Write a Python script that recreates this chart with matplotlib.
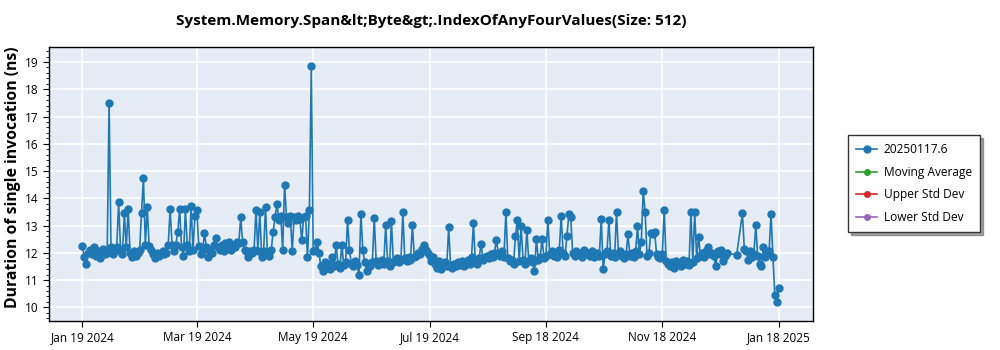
import matplotlib
matplotlib.use('Agg')
import matplotlib.pyplot as plt
import matplotlib.dates as mdates
from matplotlib.ticker import AutoMinorLocator
import numpy as np
import pandas as pd

# one value per day, Jan 19 2024 .. Jan 18 2025
jan24 = [12.25, 11.85, 11.6, 12.0, 12.1, 11.95, 12.2, 11.9, 12.05, 11.8, 12.0, 12.15, 11.95]
feb24 = [12.0, 17.48, 12.2, 11.95, 12.05, 12.2, 13.86, 12.15, 11.95, 13.45,
         12.2, 13.6, 12.0, 11.85, 12.05, 11.9, 12.0, 12.1, 13.47, 14.73,
         12.3, 13.67, 12.25, 12.1, 11.95, 11.8, 12.0, 11.9, 12.0]
mar24 = [12.05, 11.95, 12.0, 12.3, 13.6, 12.3, 12.05, 12.3, 12.78, 13.6,
         12.2, 11.9, 13.6, 12.3, 12.05, 13.73, 12.1, 13.35, 13.58, 12.25,
         11.95, 12.1, 12.72, 12.2, 11.85, 12.1, 12.0, 12.3, 12.54, 12.2, 12.1]
apr24 = [12.3, 12.05, 12.35, 12.2, 12.4, 12.1, 12.3, 12.2, 12.4, 12.35,
         13.3, 12.4, 12.1, 12.05, 11.85, 12.05, 12.0, 12.1, 13.58, 12.05,
         13.5, 11.85, 12.05, 13.68, 12.0, 11.9, 12.1, 12.78, 13.3, 13.8]
may24 = [13.2, 13.35, 12.1, 14.5, 13.3, 13.1, 13.35, 12.07, 13.3, 13.2,
         13.35, 13.25, 12.47, 13.3, 13.35, 11.83, 13.56, 18.85, 12.05, 12.1,
         12.38, 12.0, 11.5, 11.35, 11.65, 11.45, 11.6, 11.4, 11.85, 11.5, 12.3]
jun24 = [11.6, 11.45, 12.3, 11.55, 11.65, 13.2, 12.1, 11.6, 11.5, 11.7,
         11.55, 11.2, 13.42, 12.1, 11.65, 11.35, 11.6, 11.5, 11.65, 13.27,
         11.7, 11.55, 11.6, 11.75, 11.6, 13.02, 11.7, 11.5, 13.17, 11.65]
jul24 = [11.7, 11.8, 11.65, 11.75, 13.5, 11.8, 11.7, 11.85, 11.75, 13.02,
         11.85, 11.9, 12.0, 11.95, 12.15, 12.3, 12.1, 12.0, 11.9, 11.7,
         11.85, 11.6, 11.45, 11.7, 11.4, 11.55, 11.65, 11.5, 12.93, 11.55, 11.45]
aug24 = [11.6, 11.5, 11.65, 11.55, 11.7, 11.5, 11.6, 11.75, 11.6, 11.85,
         13.08, 11.7, 11.6, 11.8, 12.34, 11.75, 11.85, 11.9, 11.8, 11.95,
         11.85, 12.0, 12.47, 12.0, 11.9, 12.05, 11.85, 13.5, 11.8, 11.7, 11.75]
sep24 = [11.6, 12.6, 13.2, 11.7, 12.97, 11.75, 11.6, 12.84, 11.7, 11.8,
         11.65, 11.34, 12.51, 11.75, 11.85, 12.51, 11.8, 11.9, 13.2, 11.95,
         12.05, 11.9, 12.0, 11.85, 12.1, 13.35, 12.0, 11.9, 12.6, 13.42]
oct24 = [13.3, 12.0, 11.9, 12.05, 11.95, 12.0, 11.85, 12.1, 11.95, 12.0,
         11.9, 12.05, 11.85, 11.95, 12.0, 11.9, 13.25, 11.4, 11.95, 12.05,
         13.2, 11.9, 12.0, 11.85, 13.5, 11.95, 12.05, 11.9, 11.8, 11.95, 12.68]
nov24 = [11.9, 12.0, 11.85, 12.05, 12.98, 11.95, 12.4, 14.27, 13.5, 11.9,
         12.0, 12.74, 12.7, 12.75, 11.95, 11.85, 11.8, 11.95, 13.57, 11.7,
         11.6, 11.5, 11.65, 11.45, 11.7, 11.55, 11.6, 11.5, 11.75, 11.6]
dec24 = [11.7, 11.55, 13.5, 11.65, 13.5, 11.8, 12.58, 11.9, 12.0, 11.85,
         12.05, 12.2, 11.95, 12.0, 11.9, 11.5, 12.05, 11.95, 12.1, 11.7,
         11.9, 11.98, 11.95, 11.95, 11.95, 11.95, 11.93, 11.93, 11.93, 13.45, 12.14]
jan25 = [12.05, 11.73, 12.07, 11.85, 11.95, 13.01, 11.9, 11.6, 11.52, 12.2,
         11.85, 11.95, 12.07, 13.42, 11.85, 10.45, 10.2, 10.7]
no_run_days = ['2024-12-23', '2024-12-24', '2024-12-25', '2024-12-26',
               '2024-12-28', '2024-12-29']

tick_dates = ['2024-01-19', '2024-03-19', '2024-05-19', '2024-07-19',
              '2024-09-18', '2024-11-18', '2025-01-18']

values = jan24 + feb24 + mar24 + apr24 + may24 + jun24 + jul24 + aug24 + \
    sep24 + oct24 + nov24 + dec24 + jan25
days = pd.date_range('2024-01-19', '2025-01-18', freq='D')
series = pd.Series(values, index=days)
series = series.drop(pd.to_datetime(no_run_days))

plt.rcParams['font.family'] = ['Open Sans', 'DejaVu Sans']

fig = plt.figure(figsize=(10, 3.5), dpi=100)
ax = fig.add_axes([0.049, 1 - 321 / 350, 0.764, 274 / 350])
ax.set_facecolor('#E5ECF6')

ax.plot(series.index, series.values, color='#1f77b4', marker='o',
        markersize=5, linewidth=1.2, label='20250117.6', zorder=3)
ax.plot([], [], color='#2ca02c', marker='o', markersize=4, linewidth=1.2,
        label='Moving Average')
ax.plot([], [], color='#d62728', marker='o', markersize=4, linewidth=1.2,
        label='Upper Std Dev')
ax.plot([], [], color='#9467bd', marker='o', markersize=4, linewidth=1.2,
        label='Lower Std Dev')

ax.set_xlim(pd.Timestamp('2024-01-01 12:00'), pd.Timestamp('2025-02-05'))
ax.set_ylim(9.5, 19.55)
ax.set_xticks(pd.to_datetime(tick_dates))
ax.xaxis.set_major_formatter(mdates.DateFormatter('%b %d %Y'))
ax.set_yticks(np.arange(10, 20))
ax.yaxis.set_minor_locator(AutoMinorLocator(5))
ax.tick_params(axis='both', which='major', labelsize=8.5, length=4,
               direction='out')
ax.tick_params(axis='y', which='minor', length=2)
ax.grid(True, color='white', linewidth=1.2, zorder=0)
ax.set_axisbelow(True)
for sp in ax.spines.values():
    sp.set_color('black')
    sp.set_linewidth(1)

ax.set_ylabel('Duration of single invocation (ns)', fontsize=11.3,
              fontweight='bold')
ax.yaxis.set_label_coords(-0.037, 0.525)
ax.set_title('System.Memory.Span&lt;Byte&gt;.IndexOfAnyFourValues(Size: 512)',
             fontsize=11, fontweight='bold', pad=16)

leg = ax.legend(loc='upper left', bbox_to_anchor=(0.848, 1 - 135 / 350),
                bbox_transform=fig.transFigure, fancybox=False, shadow=True,
                fontsize=8.6, handlelength=1.7, handletextpad=0.6,
                labelspacing=0.8, borderpad=0.7, borderaxespad=0,
                framealpha=1)
leg.get_frame().set_edgecolor('#333333')
leg.get_frame().set_linewidth(1)

fig.savefig('out.png', dpi=100)
